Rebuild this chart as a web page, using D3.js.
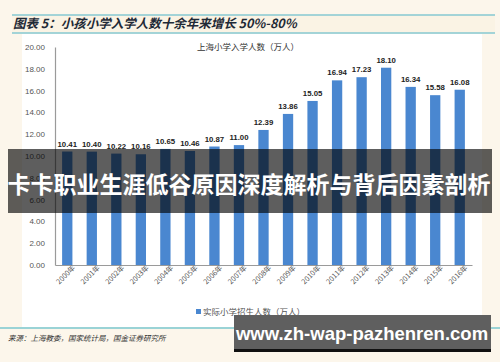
<!DOCTYPE html>
<html>
<head>
<meta charset="utf-8">
<script src="https://cdn.jsdelivr.net/npm/d3@7"></script>
<style>
  html, body { margin: 0; padding: 0; background: #fcf6eb; }
  #chart { width: 500px; height: 362px; }
  text { font-family: "Liberation Sans", Arial, "Noto Sans CJK SC", sans-serif; }
  .cjk { font-family: "Noto Sans CJK SC", sans-serif; }
</style>
</head>
<body>
<div id="chart"></div>
<script>
const years = ["2000年", "2001年", "2002年", "2003年", "2004年", "2005年", "2006年", "2007年", "2008年",
  "2009年", "2010年", "2011年", "2012年", "2013年", "2014年", "2015年", "2016年"];
const enrolment = [10.41, 10.40, 10.22, 10.16, 10.65, 10.46, 10.87, 11.00, 12.39,
  13.86, 15.05, 16.94, 17.23, 18.10, 16.34, 15.58, 16.08];
const yTicks = [0, 2, 4, 6, 8, 10, 12, 14, 16, 18, 20];

const figureTitle = "图表 5：小孩小学入学人数十余年来增长 50%-80%";
const chartTitle = "上海小学入学人数（万人）";
const legendLabel = "实际小学招生人数（万人）";
const sourceNote = "来源：上海教委，国家统计局，国金证券研究所";
const bannerText = "卡卡职业生涯低谷原因深度解析与背后因素剖析";
const siteText = "www.zh-wap-pazhenren.com";

const width = 500;
const height = 362;
const plot = { left: 55, right: 472, top: 47, bottom: 265 };

const svg = d3.select("#chart")
  .append("svg")
  .attr("width", width)
  .attr("height", height)
  .attr("viewBox", [0, 0, width, height]);

// page background and white panel
svg.append("rect").attr("width", width).attr("height", height).attr("fill", "#fcf6eb");
svg.append("rect").attr("x", 12).attr("y", 15).attr("width", 483).attr("height", 18).attr("fill", "#faf3e4");
svg.append("rect").attr("x", 22).attr("y", 34).attr("width", 460).attr("height", 294).attr("fill", "#ffffff");

// teal rules
[15, 33].forEach((y) => {
  svg.append("line").attr("x1", 12).attr("x2", 495).attr("y1", y).attr("y2", y)
    .attr("stroke", "#86c8d2").attr("stroke-width", 1.5);
});
svg.append("line").attr("x1", 0).attr("x2", 500).attr("y1", 328).attr("y2", 328)
  .attr("stroke", "#9ad3d6").attr("stroke-width", 2);

svg.append("text")
  .attr("class", "cjk")
  .attr("x", 13).attr("y", 28)
  .attr("font-size", 12.5).attr("font-weight", 700).attr("font-style", "italic")
  .attr("fill", "#1f2a36")
  .text(figureTitle);

const x = d3.scaleBand()
  .domain(years)
  .range([plot.left, plot.right])
  .paddingInner(0.58)
  .paddingOuter(0.29);

const y = d3.scaleLinear().domain([0, 20]).range([plot.bottom, plot.top]);

// y axis
const yAxis = svg.append("g")
  .attr("transform", `translate(${plot.left},0)`)
  .call(d3.axisLeft(y).tickValues(yTicks).tickSize(0).tickPadding(10).tickFormat(d3.format(".2f")));
yAxis.select(".domain").attr("stroke", "#9a9a9a").attr("stroke-width", 1.2);
yAxis.selectAll("text").attr("font-size", 8).attr("fill", "#555");

// bars
svg.append("g")
  .selectAll("rect")
  .data(enrolment)
  .join("rect")
  .attr("x", (d, i) => x(years[i]))
  .attr("y", (d) => y(d))
  .attr("width", x.bandwidth())
  .attr("height", (d) => y(0) - y(d))
  .attr("fill", "#4a87d0");

// value labels
svg.append("g")
  .selectAll("text")
  .data(enrolment)
  .join("text")
  .attr("x", (d, i) => x(years[i]) + x.bandwidth() / 2)
  .attr("y", (d) => y(d) - 5)
  .attr("text-anchor", "middle")
  .attr("font-size", 7.8)
  .attr("font-weight", 700)
  .attr("fill", "#222")
  .text((d) => d.toFixed(2));

// x axis
const xAxis = svg.append("g")
  .attr("transform", `translate(0,${plot.bottom})`)
  .call(d3.axisBottom(x).tickSize(0).tickPadding(4).tickSizeOuter(0));
xAxis.select(".domain").attr("stroke", "#9a9a9a").attr("stroke-width", 1.2);
xAxis.selectAll("text")
  .attr("class", "cjk")
  .attr("font-size", 7.2)
  .attr("fill", "#555")
  .attr("text-anchor", "end")
  .attr("dx", "0.5em")
  .attr("dy", "0.6em")
  .attr("transform", "rotate(-45)");

svg.append("text")
  .attr("class", "cjk")
  .attr("x", 248).attr("y", 50)
  .attr("text-anchor", "middle")
  .attr("font-size", 8.5)
  .attr("fill", "#333")
  .text(chartTitle);

// legend
svg.append("rect").attr("x", 196).attr("y", 309).attr("width", 5).attr("height", 5).attr("fill", "#4a87d0");
svg.append("text")
  .attr("class", "cjk")
  .attr("x", 203).attr("y", 315)
  .attr("font-size", 8.5)
  .attr("fill", "#555")
  .text(legendLabel);

svg.append("text")
  .attr("class", "cjk")
  .attr("x", 8).attr("y", 341)
  .attr("font-size", 7.5).attr("font-style", "italic")
  .attr("fill", "#333")
  .text(sourceNote);

// overlay banner
svg.append("rect")
  .attr("x", 8).attr("y", 149).attr("width", 484).attr("height", 64)
  .attr("fill", "rgba(0,0,0,0.63)");
svg.append("text")
  .attr("class", "cjk")
  .attr("x", 249).attr("y", 193)
  .attr("text-anchor", "middle")
  .attr("font-size", 23).attr("font-weight", 700)
  .attr("fill", "#fff")
  .text(bannerText);

// site badge
svg.append("rect")
  .attr("x", 234).attr("y", 315).attr("width", 257).attr("height", 37)
  .attr("fill", "#5f5f5f");
svg.append("rect")
  .attr("x", 234).attr("y", 349).attr("width", 257).attr("height", 3)
  .attr("fill", "#111");
svg.append("text")
  .attr("x", 362).attr("y", 340)
  .attr("text-anchor", "middle")
  .attr("font-family", "'Open Sans', 'DejaVu Sans', sans-serif")
  .attr("font-size", 18.5).attr("font-weight", 700)
  .attr("fill", "#fff")
  .text(siteText);
</script>
</body>
</html>
